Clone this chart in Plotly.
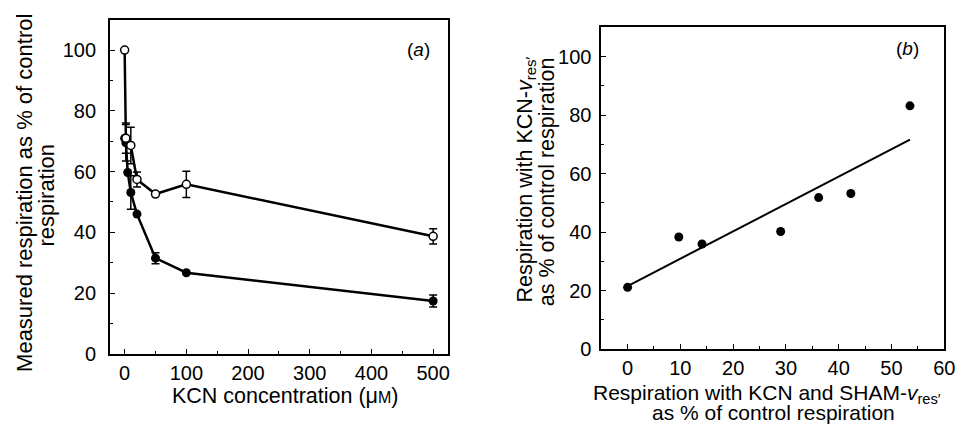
import numpy as np
import plotly.graph_objects as go

# ---------------- data: panel (a) ----------------
kcn_open = [0, 2, 10, 20, 50, 100, 500]
resp_open = [100, 71, 68.6, 57.4, 52.6, 55.8, 38.7]
err_open = [0, 5, 6, 2.5, 0, 4.3, 2.5]

kcn_filled = [0, 2, 5, 10, 20, 50, 100, 500]
resp_filled = [71, 69.5, 59.7, 53.1, 46, 31.5, 26.7, 17.4]
err_filled = [0, 6, 0, 5.5, 0, 1.8, 0, 2]

# ---------------- data: panel (b) ----------------
sham_vres = [0, 9.7, 14.1, 29.0, 36.2, 42.3, 53.5]
kcn_vres = [21.1, 38.3, 35.9, 40.2, 51.8, 53.2, 83.2]

xticks_a = [0, 100, 200, 300, 400, 500]
yticks = [0, 20, 40, 60, 80, 100]
xticks_b = [0, 10, 20, 30, 40, 50, 60]

W, H = 971, 427
FONT = "Liberation Sans, Arial, sans-serif"
BLACK = "#000000"

fig = go.Figure()


def err_trace(xs, ys, es, xa, ya):
    sx = [x for x, e in zip(xs, es) if e > 0]
    sy = [y for y, e in zip(ys, es) if e > 0]
    se = [e for e in es if e > 0]
    return go.Scatter(x=sx, y=sy, xaxis=xa, yaxis=ya, mode="markers",
                      marker=dict(size=1, opacity=0),
                      error_y=dict(type="data", array=se, visible=True,
                                   color=BLACK, thickness=1.5, width=4),
                      hoverinfo="skip")


fig.add_trace(err_trace(kcn_filled, resp_filled, err_filled, "x", "y"))
fig.add_trace(err_trace(kcn_open, resp_open, err_open, "x", "y"))

fig.add_trace(go.Scatter(x=kcn_filled, y=resp_filled, xaxis="x", yaxis="y",
                         mode="lines+markers",
                         line=dict(color=BLACK, width=2.5),
                         marker=dict(symbol="circle", size=9, color=BLACK)))
fig.add_trace(go.Scatter(x=kcn_open, y=resp_open, xaxis="x", yaxis="y",
                         mode="lines+markers",
                         line=dict(color=BLACK, width=2.5),
                         marker=dict(symbol="circle", size=8, color="white",
                                     line=dict(color=BLACK, width=1.5))))

# panel (b): regression line and points
slope, intercept = np.polyfit(sham_vres, kcn_vres, 1)
xfit = [min(sham_vres), max(sham_vres)]
yfit = [slope * v + intercept for v in xfit]
fig.add_trace(go.Scatter(x=xfit, y=yfit, xaxis="x2", yaxis="y2", mode="lines",
                         line=dict(color=BLACK, width=2)))
fig.add_trace(go.Scatter(x=sham_vres, y=kcn_vres, xaxis="x2", yaxis="y2",
                         mode="markers",
                         marker=dict(symbol="circle", size=9, color=BLACK)))

axis_common = dict(showline=True, linecolor=BLACK, linewidth=1.5, mirror=True,
                   ticks="inside", ticklen=5, tickwidth=1.2, tickcolor=BLACK,
                   showgrid=False, zeroline=False,
                   tickfont=dict(family=FONT, size=20, color=BLACK))


def px_x(p):
    return p / W


def px_y(p):
    return 1 - p / H


fig.update_layout(
    width=W, height=H,
    margin=dict(l=0, r=0, t=0, b=0),
    paper_bgcolor="white", plot_bgcolor="white",
    showlegend=False,
    xaxis=dict(domain=[px_x(103), px_x(445)], range=[-24, 524],
               tickvals=xticks_a, anchor="y",
               minor=dict(dtick=50, ticks="inside", ticklen=3, tickcolor=BLACK),
               **axis_common),
    yaxis=dict(domain=[px_y(355), px_y(12)], range=[0, 110],
               tickvals=yticks, anchor="x", ticklabelstandoff=8,
               minor=dict(dtick=10, ticks="inside", ticklen=3, tickcolor=BLACK),
               **axis_common),
    xaxis2=dict(domain=[px_x(600), px_x(947)], range=[-5, 60],
                tickvals=xticks_b, anchor="y2",
                minor=dict(dtick=5, ticks="inside", ticklen=3, tickcolor=BLACK),
                **axis_common),
    yaxis2=dict(domain=[px_y(350), px_y(20)], range=[0, 110],
                tickvals=yticks, anchor="x2", ticklabelstandoff=4,
                minor=dict(dtick=10, ticks="inside", ticklen=3, tickcolor=BLACK),
                **axis_common),
)


def ann(text, x, y, angle=0, size=21.5):
    fig.add_annotation(text=text, x=px_x(x), y=px_y(y), xref="paper", yref="paper",
                       xanchor="center", yanchor="middle", showarrow=False,
                       textangle=angle, borderpad=0,
                       font=dict(family=FONT, size=size, color=BLACK))


# panel (a) titles
ann("Measured respiration as % of control", 16, 190, -90, 22)
ann("respiration", 38, 192, -90, 22)
ann("KCN concentration (μ<span style='font-size:16px'>M</span>)", 280, 398)
ann("(<i>a</i>)", 415, 43, size=19)

# panel (b) titles
ann("Respiration with KCN-<i>v</i><sub>res′</sub>", 524, 176, -90)
ann("as % of control respiration", 546, 178, -90)
ann("Respiration with KCN and SHAM-<i>v</i><sub>res′</sub>", 768, 396, size=21)
ann("as % of control respiration", 774, 415, size=21)
ann("(<i>b</i>)", 910, 42, size=19)

fig.write_html("out.html")
